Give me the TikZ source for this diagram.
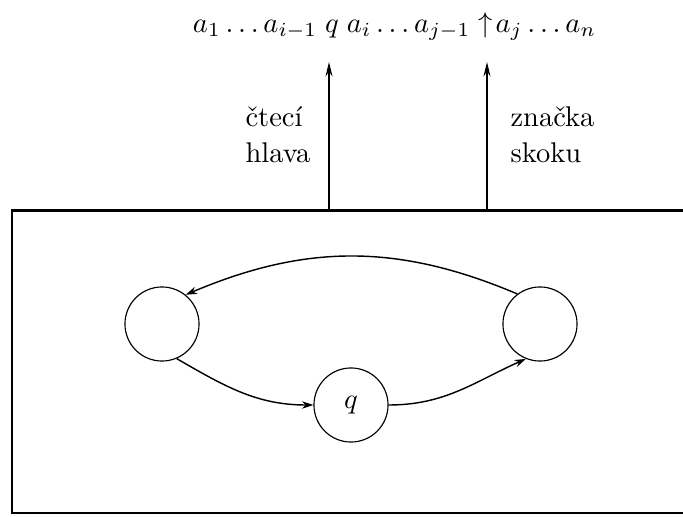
\documentclass[tikz,border=0pt]{standalone}
\usepackage{tikz}
\usetikzlibrary{arrows.meta}

\begin{document}
\begin{tikzpicture}[
    x=0.351pt, y=-0.351pt,
    state/.style={circle, draw, line width=0.4pt, minimum size=26pt, inner sep=0pt},
    label/.style={align=left, anchor=north west, inner sep=0pt},
    pointer/.style={-{Stealth[length=5pt, width=2.4pt]}, line width=0.8pt},
    trans/.style={-{Stealth[length=4pt, width=2.6pt]}, line width=0.5pt}
]
\useasboundingbox (0,0) rectangle (683,517);
\clip (0,0) rectangle (683,517);

% the tape
\node (tape) [anchor=base, inner sep=0pt] at (394.5,32)
    {$a_1\ldots a_{i-1}\;q\;a_i\ldots a_{j-1}\uparrow\!a_j\ldots a_n$};

% control unit
\draw [line width=1.05pt] (12,210) rectangle (720,513);

\coordinate (hd) at (329,210);
\coordinate (hdtip) at (329,62);
\coordinate (mk) at (487,210);
\coordinate (mktip) at (487,62);

\draw [pointer] (hd) -- (hdtip);
\draw [pointer] (mk) -- (mktip);

\node (head) [label] at (245,106) {čtecí\\[0.8pt]hlava};
\node (mark) [label] at (510,106) {značka\\[0.8pt]skoku};

\node (lft) [state] at (162,324) {};
\node (rgt) [state] at (540,324) {};
\node (q) [state] at (351,405) {$q$};

\draw [trans] (rgt.127) to[out=157, in=23] (lft.51);
\draw [trans] (lft.-67) to[out=-30, in=180] (q.west);
\draw [trans] (q.east) to[out=0, in=-156] (rgt.-112);

\end{tikzpicture}
\end{document}
